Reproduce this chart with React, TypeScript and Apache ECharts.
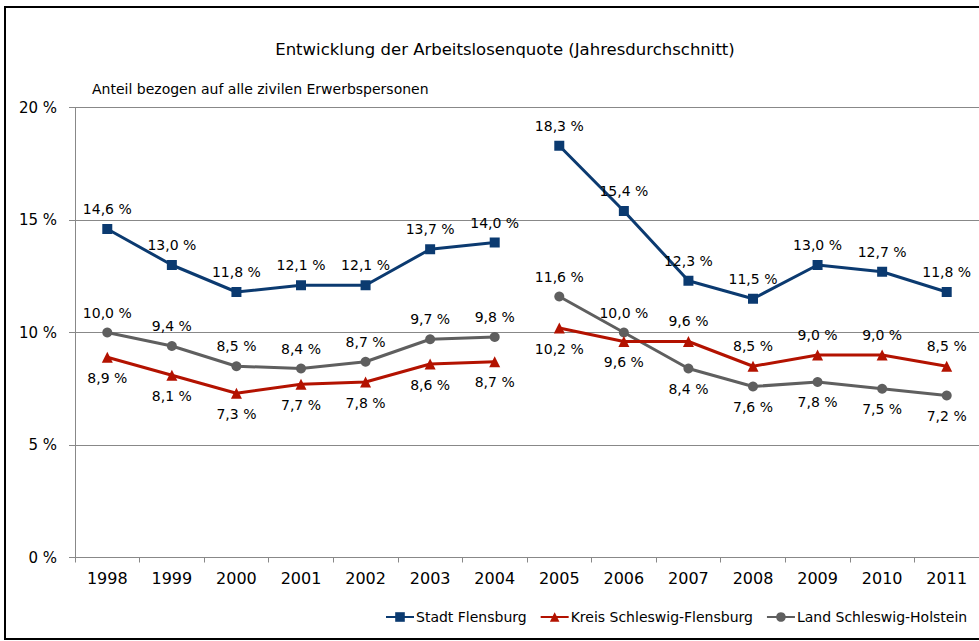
import React, { useEffect, useRef } from "react";
import * as echarts from "echarts";

const years = ["1998","1999","2000","2001","2002","2003","2004","2005","2006","2007","2008","2009","2010","2011"];
const stadt = [14.6, 13.0, 11.8, 12.1, 12.1, 13.7, 14.0, 18.3, 15.4, 12.3, 11.5, 13.0, 12.7, 11.8];
const kreis = [8.9, 8.1, 7.3, 7.7, 7.8, 8.6, 8.7, 10.2, 9.6, 9.6, 8.5, 9.0, 9.0, 8.5];
const land = [10.0, 9.4, 8.5, 8.4, 8.7, 9.7, 9.8, 11.6, 10.0, 8.4, 7.6, 7.8, 7.5, 7.2];
const kreisLabelPos = ["bottom","bottom","bottom","bottom","bottom","bottom","bottom","bottom","bottom","top","top","top","top","top"];
const landLabelPos = ["top","top","top","top","top","top","top","top","top","bottom","bottom","bottom","bottom","bottom"];
const seriesNames = ["Stadt Flensburg", "Kreis Schleswig-Flensburg", "Land Schleswig-Holstein"];
const splitIndex = 7; // gap between 2004 and 2005

const FONT = "DejaVu Sans, Liberation Sans, Arial, sans-serif";

function fmt(v: number) {
  return v.toFixed(1).replace(".", ",") + " %";
}

export default function App() {
  const ref = useRef<HTMLDivElement>(null);
  useEffect(() => {
    if (!ref.current) return;
    const chart = echarts.init(ref.current, undefined, { renderer: "svg" });

    const makeData = (vals: number[], pos: string[] | null, part: number) =>
      vals.map((v, i) => {
        const inPart = part === 0 ? i < splitIndex : i >= splitIndex;
        if (!inPart) return null;
        return {
          value: v,
          label: { position: pos ? pos[i] : "top" },
        };
      });

    const defs = [
      { name: seriesNames[0], vals: stadt, pos: null, color: "#0b3a70", symbol: "rect", size: 10 },
      { name: seriesNames[1], vals: kreis, pos: kreisLabelPos, color: "#b31200", symbol: "triangle", size: 11 },
      { name: seriesNames[2], vals: land, pos: landLabelPos, color: "#5f5f5f", symbol: "circle", size: 10 },
    ];

    const series: any[] = [];
    [0, 1].forEach((part) => {
      defs.forEach((d, k) => {
        series.push({
          type: "line",
          name: d.name,
          data: makeData(d.vals, d.pos, part),
          connectNulls: false,
          symbol: d.symbol,
          symbolSize: d.size,
          z: 10 - k,
          lineStyle: { color: d.color, width: 3 },
          itemStyle: { color: d.color },
          label: {
            show: true,
            distance: 8,
            color: "#000",
            fontFamily: FONT,
            fontSize: 14,
            formatter: (p: any) => fmt(p.value),
          },
        });
      });
    });

    chart.setOption({
      animation: false,
      backgroundColor: "#fff",
      textStyle: { fontFamily: FONT },
      title: [
        {
          text: "Entwicklung der Arbeitslosenquote (Jahresdurchschnitt)",
          left: 500,
          top: 36,
          textAlign: "center",
          textStyle: { fontFamily: FONT, fontSize: 16.5, fontWeight: "normal", color: "#000" },
        },
        {
          text: "Anteil bezogen auf alle zivilen Erwerbspersonen",
          left: 87,
          top: 77,
          textStyle: { fontFamily: FONT, fontSize: 14, fontWeight: "normal", color: "#000" },
        },
      ],
      legend: {
        data: seriesNames,
        left: 385,
        top: 610,
        padding: 0,
        itemWidth: 28,
        itemHeight: 12,
        itemGap: 13,
        textStyle: { fontFamily: FONT, fontSize: 14, color: "#000", padding: [0, 0, 0, -3] },
      },
      grid: { left: 75, top: 107.5, width: 910, height: 450 },
      xAxis: {
        type: "category",
        data: years,
        boundaryGap: true,
        axisLine: { lineStyle: { color: "#888", width: 1 } },
        axisTick: { show: true, length: 5, lineStyle: { color: "#888" } },
        axisLabel: { color: "#000", fontFamily: FONT, fontSize: 16, margin: 13 },
      },
      yAxis: {
        type: "value",
        min: 0,
        max: 20,
        interval: 5,
        axisLine: { show: true, lineStyle: { color: "#888", width: 1 } },
        axisTick: { show: true, length: 6, lineStyle: { color: "#888" } },
        splitLine: { lineStyle: { color: "#888", width: 1 } },
        axisLabel: { color: "#000", fontFamily: FONT, fontSize: 15, margin: 18, formatter: "{value} %" },
      },
      graphic: [
        {
          type: "rect",
          shape: { x: 5, y: 7, width: 990, height: 632 },
          style: { fill: "none", stroke: "#000", lineWidth: 2 },
          silent: true,
          z: 100,
        },
      ],
      series,
    });
    return () => chart.dispose();
  }, []);
  return (
    <div
      ref={ref}
      style={{ position: "absolute", left: 0, top: 0, width: 979, height: 641 }}
    />
  );
}
